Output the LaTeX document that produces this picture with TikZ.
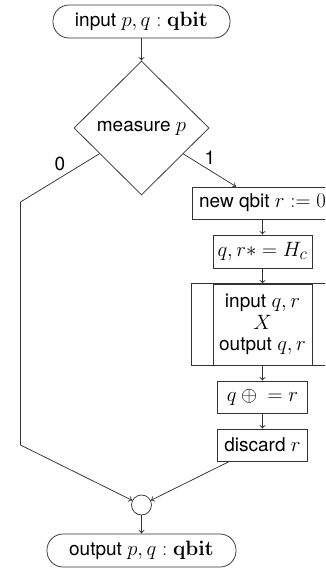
\documentclass[tikz,border=0pt]{standalone}
\usepackage[no-math]{fontspec}
\setmainfont{TeX Gyre Heros}
\DeclareMathSizes{19}{22}{16}{12}
\usetikzlibrary{shapes.geometric,arrows.meta}

\begin{document}
\begin{tikzpicture}[x=1pt,y=-1pt,
  every node/.style={font=\fontsize{19}{21.5}\selectfont},
  line/.style={draw=black!80, line width=0.75pt},
  arr/.style={line, -{To[length=3.5pt,width=6pt]}},
  term/.style={line, rectangle, rounded corners=16pt, minimum height=33pt, inner sep=0pt},
  proc/.style={line, rectangle, minimum height=32pt, inner sep=0pt},
  decision/.style={line, diamond, aspect=1, inner sep=0pt},
  junction/.style={line, circle, minimum size=20pt, inner sep=0pt},
  branch/.style={inner sep=0pt},
]
\useasboundingbox (0,0) rectangle (325,568);
\clip (0,0) rectangle (325,568);

% start / stop terminals
\node[term, minimum width=177pt] (start) at (141.5,21.5) {input $p,q:\mathbf{qbit}$};
\node[term, minimum width=189pt] (stop) at (141.5,550.5) {output $p,q:\mathbf{qbit}$};

% the measurement decision
\node[decision, minimum width=135pt, minimum height=134pt] (dec) at (141.5,128) {measure $p$};

% right-hand branch
\node[proc, minimum width=140pt] (newq) at (262.5,203) {new qbit $r:=0$};
\node[proc, minimum width=99pt, minimum height=33pt] (hc) at (262.5,251.5) {$q,r* = H_c$};
\node[proc, minimum width=99pt, minimum height=81pt, align=center] (pp) at (262.5,324.5)
  {input $q,r$\\$X$\\output $q,r$};
\draw[line] ([xshift=-21.5pt]pp.north west) rectangle ([xshift=21.5pt]pp.south east);
\node[proc, minimum width=90pt] (xor) at (262.5,397) {$q \oplus{} = r$};
\node[proc, minimum width=90pt] (disc) at (262.5,445) {discard $r$};

% merge point
\node[junction] (merge) at (141.5,505) {};

% left-hand branch corners
\coordinate (c0a) at (20.5,202);
\coordinate (c0b) at (20.5,445);

% branch labels
\node[branch] (l0) at (60,164) {0};
\node[branch] (l1) at (210,158) {1};

% connectors
\draw[arr] (start) -- (dec);
\draw[line] (dec) -- (c0a) -- (c0b);
\draw[arr] (c0b) -- (merge);
\draw[arr] (dec) -- (newq);
\draw[arr] (newq) -- (hc);
\draw[arr] (hc) -- (pp);
\draw[arr] (pp) -- (xor);
\draw[arr] (xor) -- (disc);
\draw[arr] (disc) -- (merge);
\draw[arr] (merge) -- (stop);
\end{tikzpicture}
\end{document}
